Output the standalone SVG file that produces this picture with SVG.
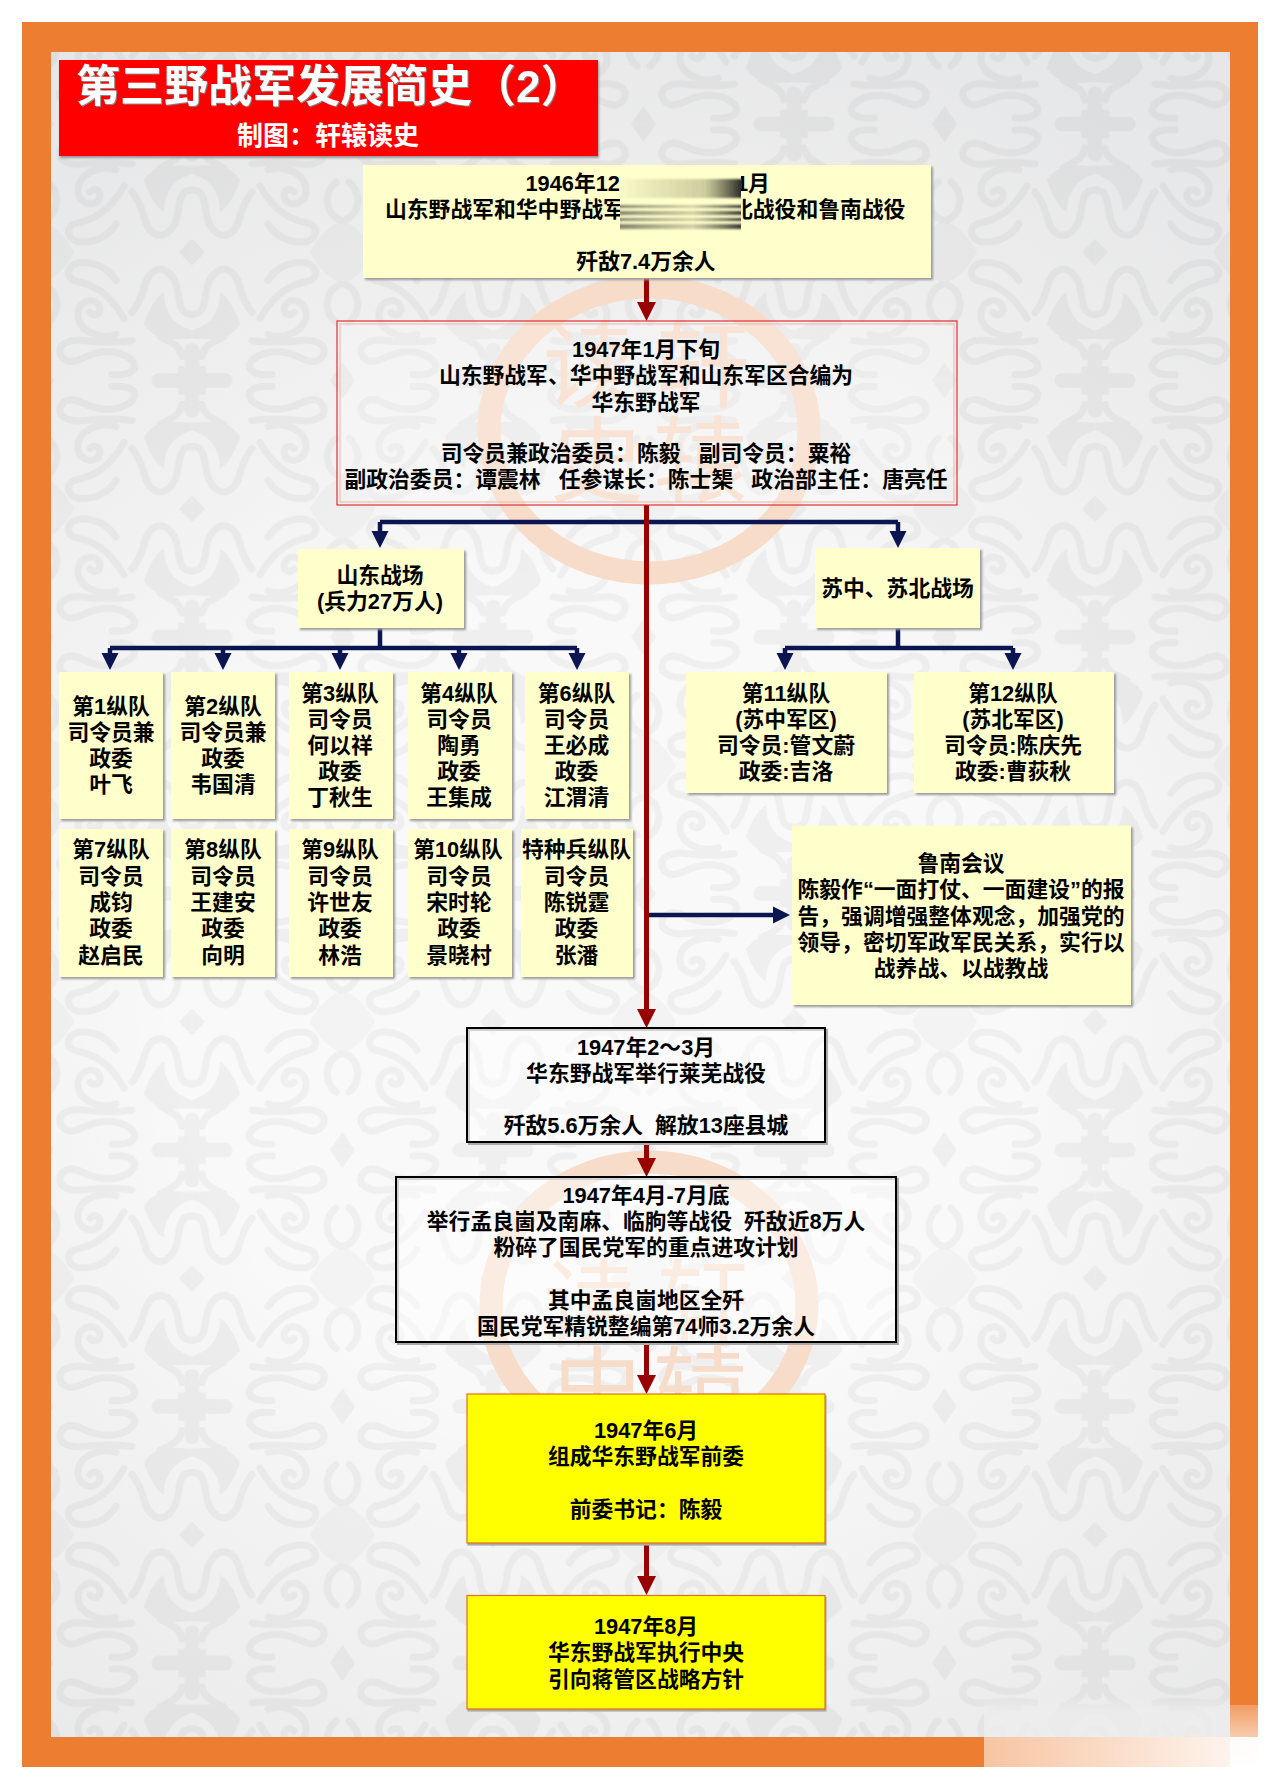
<svg xmlns="http://www.w3.org/2000/svg" width="1280" height="1789" viewBox="0 0 1280 1789">
<style>
text{font-family:"Liberation Sans","Noto Sans CJK SC",sans-serif;font-weight:700;font-size:21.8px;fill:#000;text-anchor:middle;white-space:pre}
.box{fill:#FFFFCC;filter:drop-shadow(2px 2.5px .8px #9a9a9a)}
.yel{fill:#FFFF00;stroke:#E3701A;stroke-width:1.2;filter:drop-shadow(1px 2px .6px #aaa)}
.plain{fill:#fff;fill-opacity:.45;stroke:#000;stroke-width:2}
.pshadow{fill:none;stroke:#aaa;stroke-width:2}
.wm{font-size:94px;font-weight:400;fill:#f7dcca}
.red{stroke:#990000;stroke-width:5;fill:none}
.navy{stroke:#0B1551;stroke-width:4.5;fill:none}
.orn{fill:none;stroke:#efefef;stroke-width:7;stroke-linecap:round}
.ornf{fill:#efefef}
</style>
<defs>
<marker id="ar" markerUnits="userSpaceOnUse" markerWidth="20" markerHeight="20" refX="0" refY="10" orient="auto" viewBox="0 0 20 20"><path d="M0,.5L19,10L0,19.5Z" fill="#990000"/></marker>
<marker id="an" markerUnits="userSpaceOnUse" markerWidth="18" markerHeight="18" refX="0" refY="9" orient="auto" viewBox="0 0 18 18"><path d="M0,.5L17,9L0,17.5Z" fill="#0B1551"/></marker>
<g id="q">
<rect x="-40" y="-7" width="40" height="14" rx="6" class="ornf"/>
<rect x="-7" y="-37" width="14" height="37" rx="6" class="ornf"/>
<rect x="-14" y="-14" width="14" height="14" class="ornf"/>
<polygon points="0,-128.25 -13,-128.25 0,-115" class="ornf"/>
<path class="orn" d="M0,-66C-10,-66 -12,-72 -14,-88C-16,-104 -28,-118 -40,-108C-50,-100 -46,-84 -60,-68"/>
<path class="ornf" d="M-48,-56C-44,-70 -36,-84 -28,-88C-28,-70 -20,-56 0,-50L0,-42C-18,-42 -34,-36 -48,-56Z"/>
<path class="orn" d="M-32,-44C-22,-38 -12,-36 -10,-24"/>
<path class="orn" d="M-80,-6C-58,-4 -52,-14 -62,-22C-76,-32 -94,-30 -110,-22C-122,-16 -130,-20 -132,-28C-134,-36 -122,-42 -108,-40C-92,-38 -74,-38 -60,-40"/>
<path class="orn" d="M-76,-46C-92,-40 -116,-50 -114,-68C-112,-82 -94,-84 -92,-72C-91,-65 -100,-64 -102,-68"/>
<path class="orn" d="M-68,-62C-84,-90 -100,-96 -118,-100C-128,-104 -124,-118 -110,-118C-96,-118 -84,-112 -76,-100"/>
<path class="orn" d="M-144,-58C-130,-70 -134,-90 -148,-96"/>
<path class="ornf" d="M-150.5,-128.25L-118,-128.25C-126,-112 -138,-102 -150.5,-96Z" fill-opacity=".6"/>
<polygon points="-150.5,-18 -138,0 -150.5,0" class="ornf"/>
</g>
<pattern id="bgp" patternUnits="userSpaceOnUse" x="41.5" y="1021.75" width="301" height="256.5">
<rect width="301" height="256.5" fill="#f9f9f9"/>
<use href="#q" transform="translate(150.5,128.25)"/>
<use href="#q" transform="translate(150.5,128.25) scale(-1,1)"/>
<use href="#q" transform="translate(150.5,128.25) scale(1,-1)"/>
<use href="#q" transform="translate(150.5,128.25) scale(-1,-1)"/>
</pattern>
<radialGradient id="vig" gradientUnits="userSpaceOnUse" cx="600" cy="1000" r="1050">
<stop offset=".4" stop-color="#000" stop-opacity="0"/><stop offset="1" stop-color="#2a3040" stop-opacity=".09"/>
</radialGradient>
<linearGradient id="fadeH" x1="0" x2="1" y1="0" y2="0"><stop offset="0" stop-color="#fff" stop-opacity=".55"/><stop offset="1" stop-color="#fff" stop-opacity=".95"/></linearGradient>
<linearGradient id="fadeV" x1="0" x2="0" y1="0" y2="1"><stop offset="0" stop-color="#fff" stop-opacity=".25"/><stop offset="1" stop-color="#fff" stop-opacity=".96"/></linearGradient>
<linearGradient id="fadeG" x1="0" x2="0" y1="0" y2="1"><stop offset="0" stop-color="#ededed" stop-opacity="0"/><stop offset=".4" stop-color="#ededed" stop-opacity=".8"/></linearGradient>
<linearGradient id="st1" x1="0" x2="1" y1="0" y2="0"><stop offset="0" stop-color="#5a5a3a" stop-opacity=".03"/><stop offset=".7" stop-color="#5a5a3a" stop-opacity=".3"/><stop offset="1" stop-color="#222" stop-opacity=".95"/></linearGradient>
<linearGradient id="st2" x1="0" x2="1" y1="0" y2="0"><stop offset="0" stop-color="#333" stop-opacity=".6"/><stop offset=".6" stop-color="#666650" stop-opacity=".3"/><stop offset="1" stop-color="#222" stop-opacity=".9"/></linearGradient>
<filter id="vb" x="-5%" y="-60%" width="110%" height="220%"><feGaussianBlur stdDeviation="0.6 1"/></filter>
</defs>

<g id="frame">
<rect x="22" y="22" width="1236" height="1745" fill="#ED7D31"/>
<rect x="51" y="52" width="1179" height="1685" fill="url(#bgp)"/>
<rect x="51" y="52" width="1179" height="1685" fill="url(#vig)"/>
<rect x="984" y="1695" width="246" height="42" fill="url(#fadeG)"/>
<rect x="984" y="1737" width="274" height="31" fill="url(#fadeH)"/>
<rect x="1230" y="1705" width="28" height="63" fill="url(#fadeV)"/>
</g>

<g id="watermarks">
<ellipse cx="649" cy="430" rx="160" ry="143" fill="none" stroke="#f7dcca" stroke-width="23"/>
<text class="wm" x="590" y="400">读</text><text class="wm" x="703" y="400">轩</text>
<text class="wm" x="597" y="495">史</text><text class="wm" x="700" y="495">辕</text>
<ellipse cx="649" cy="1305" rx="158" ry="143" fill="none" stroke="#f7dcca" stroke-width="23"/>
<text class="wm" x="590" y="1338">读</text><text class="wm" x="703" y="1338">轩</text>
<text class="wm" x="597" y="1425">史</text><text class="wm" x="700" y="1425">辕</text>
</g>

<g id="connectors">
<path class="navy" d="M380,522H898M380,522V531" marker-end="url(#an)"/>
<path class="navy" d="M898,522V531" marker-end="url(#an)"/>
<path class="navy" d="M380,628V648M110,648H577M898,628V648M785,648H1013"/>
<path class="navy" d="M110,648V653" marker-end="url(#an)"/>
<path class="navy" d="M223,648V653" marker-end="url(#an)"/>
<path class="navy" d="M340,648V653" marker-end="url(#an)"/>
<path class="navy" d="M459,648V653" marker-end="url(#an)"/>
<path class="navy" d="M577,648V653" marker-end="url(#an)"/>
<path class="navy" d="M785,648V653" marker-end="url(#an)"/>
<path class="navy" d="M1013,648V653" marker-end="url(#an)"/>
<path class="navy" d="M648,915H773" marker-end="url(#an)"/>
<path class="red" d="M646.5,278V302" marker-end="url(#ar)"/>
<path class="red" d="M646.5,505V1009" marker-end="url(#ar)"/>
<path class="red" d="M646.5,1142V1158" marker-end="url(#ar)"/>
<path class="red" d="M646.5,1342V1375" marker-end="url(#ar)"/>
<path class="red" d="M646.5,1543V1576" marker-end="url(#ar)"/>
</g>

<g id="title">
<rect x="59" y="60" width="539" height="96" fill="#FF0000" style="filter:drop-shadow(1px 2px 1px #999)"/>
<text x="76" y="102" style="font-size:44px;text-anchor:start;fill:#fff;filter:drop-shadow(1px 1px .5px #888)">第三野战军发展简史（<tspan style="font-size:44px">2</tspan>）</text>
<text x="328" y="145" style="font-size:26px;fill:#fff">制图：轩辕读史</text>
</g>

<g id="n-1946">
<rect class="box" x="363" y="165" width="568" height="113"/>
<text x="620" y="191" style="text-anchor:end">1946年12</text>
<text x="736" y="191" style="text-anchor:start">1月</text>
<text x="385" y="216.5" style="text-anchor:start">山东野战军和华中野战军</text>
<text x="731" y="216.5" style="text-anchor:start">北战役和鲁南战役</text>
<text x="646" y="269">歼敌7.4万余人</text>
<rect x="620" y="176" width="121" height="56" fill="#FFFFCC"/>
<rect x="620" y="179" width="121" height="19" fill="url(#st1)" filter="url(#vb)"/>
<rect x="620" y="205" width="121" height="3" fill="url(#st2)" filter="url(#vb)"/>
<rect x="620" y="211" width="121" height="4" fill="url(#st2)" filter="url(#vb)"/>
<rect x="620" y="218" width="121" height="3" fill="url(#st2)" filter="url(#vb)"/>
<rect x="620" y="224" width="121" height="5" fill="url(#st2)" filter="url(#vb)"/>
</g>

<g id="n-1947-1">
<rect x="337" y="321" width="620" height="184" fill="#fff" fill-opacity=".22" stroke="#E03030" stroke-width="1.2"/>
<rect x="340" y="324" width="614" height="178" fill="none" stroke="#F3B0A8" stroke-width="1"/>
<text x="646" y="357">1947年1月下旬</text>
<text x="646" y="383">山东野战军、华中野战军和山东军区合编为</text>
<text x="646" y="410">华东野战军</text>
<text x="646" y="461">司令员兼政治委员：陈毅   副司令员：粟裕</text>
<text x="646" y="487">副政治委员：谭震林   任参谋长：陈士榘   政治部主任：唐亮任</text>
</g>

<g id="n-shandong"><rect class="box" x="298" y="549" width="166" height="79"/>
<text x="380" y="583">山东战场</text><text x="380" y="609">(兵力27万人)</text></g>
<g id="n-suzhong"><rect class="box" x="815" y="548" width="165" height="80"/>
<text x="897.5" y="596">苏中、苏北战场</text></g>

<g id="n-c1"><rect class="box" x="59" y="672" width="104" height="147"/>
<text x="111" y="714">第1纵队</text><text x="111" y="740">司令员兼</text><text x="111" y="766">政委</text><text x="111" y="792">叶飞</text></g>
<g id="n-c2"><rect class="box" x="171" y="672" width="104" height="147"/>
<text x="223" y="714">第2纵队</text><text x="223" y="740">司令员兼</text><text x="223" y="766">政委</text><text x="223" y="792">韦国清</text></g>
<g id="n-c3"><rect class="box" x="289" y="672" width="104" height="147"/>
<text x="340" y="701">第3纵队</text><text x="340" y="727">司令员</text><text x="340" y="753">何以祥</text><text x="340" y="779">政委</text><text x="340" y="805">丁秋生</text></g>
<g id="n-c4"><rect class="box" x="408" y="672" width="104" height="147"/>
<text x="459" y="701">第4纵队</text><text x="459" y="727">司令员</text><text x="459" y="753">陶勇</text><text x="459" y="779">政委</text><text x="459" y="805">王集成</text></g>
<g id="n-c6"><rect class="box" x="525" y="672" width="104" height="147"/>
<text x="576.5" y="701">第6纵队</text><text x="576.5" y="727">司令员</text><text x="576.5" y="753">王必成</text><text x="576.5" y="779">政委</text><text x="576.5" y="805">江渭清</text></g>

<g id="n-c7"><rect class="box" x="59" y="829" width="104" height="148"/>
<text x="111" y="857">第7纵队</text><text x="111" y="883.5">司令员</text><text x="111" y="910">成钧</text><text x="111" y="936">政委</text><text x="111" y="963">赵启民</text></g>
<g id="n-c8"><rect class="box" x="171" y="829" width="104" height="148"/>
<text x="223" y="857">第8纵队</text><text x="223" y="883.5">司令员</text><text x="223" y="910">王建安</text><text x="223" y="936">政委</text><text x="223" y="963">向明</text></g>
<g id="n-c9"><rect class="box" x="289" y="829" width="104" height="148"/>
<text x="340" y="857">第9纵队</text><text x="340" y="883.5">司令员</text><text x="340" y="910">许世友</text><text x="340" y="936">政委</text><text x="340" y="963">林浩</text></g>
<g id="n-c10"><rect class="box" x="408" y="829" width="104" height="148"/>
<text x="458" y="857">第10纵队</text><text x="459" y="883.5">司令员</text><text x="459" y="910">宋时轮</text><text x="459" y="936">政委</text><text x="459" y="963">景晓村</text></g>
<g id="n-cs"><rect class="box" x="521" y="829" width="112" height="148"/>
<text x="576.5" y="857">特种兵纵队</text><text x="576.5" y="883.5">司令员</text><text x="576.5" y="910">陈锐霆</text><text x="576.5" y="936">政委</text><text x="576.5" y="963">张潘</text></g>

<g id="n-c11"><rect class="box" x="686" y="672" width="201" height="121"/>
<text x="786" y="701">第11纵队</text><text x="786" y="727">(苏中军区)</text><text x="786" y="753">司令员:管文蔚</text><text x="786" y="779">政委:吉洛</text></g>
<g id="n-c12"><rect class="box" x="914" y="672" width="200" height="121"/>
<text x="1013" y="701">第12纵队</text><text x="1013" y="727">(苏北军区)</text><text x="1013" y="753">司令员:陈庆先</text><text x="1013" y="779">政委:曹荻秋</text></g>

<g id="n-lunan"><rect class="box" x="792" y="825.5" width="339" height="179.5"/>
<text x="961" y="871">鲁南会议</text>
<text x="961" y="897">陈毅作“一面打仗、一面建设”的报</text>
<text x="961" y="924">告，强调增强整体观念，加强党的</text>
<text x="961" y="950">领导，密切军政军民关系，实行以</text>
<text x="961" y="976">战养战、以战教战</text></g>

<g id="n-1947-2"><rect class="pshadow" x="469" y="1030" width="358" height="114"/>
<rect class="plain" x="467" y="1028" width="358" height="114"/>
<text x="646" y="1055">1947年2～3月</text>
<text x="646" y="1081">华东野战军举行莱芜战役</text>
<text x="646" y="1133">歼敌5.6万余人  解放13座县城</text></g>

<g id="n-1947-4"><rect class="pshadow" x="398" y="1179" width="500" height="165"/>
<rect class="plain" x="396" y="1177" width="500" height="165"/>
<text x="646" y="1203">1947年4月-7月底</text>
<text x="646" y="1229">举行孟良崮及南麻、临朐等战役  歼敌近8万人</text>
<text x="646" y="1255">粉碎了国民党军的重点进攻计划</text>
<text x="646" y="1308">其中孟良崮地区全歼</text>
<text x="646" y="1334">国民党军精锐整编第74师3.2万余人</text></g>

<g id="n-1947-6"><rect class="yel" x="467" y="1394" width="358" height="149"/>
<text x="646" y="1438">1947年6月</text>
<text x="646" y="1464">组成华东野战军前委</text>
<text x="646" y="1517">前委书记：陈毅</text></g>

<g id="n-1947-8"><rect class="yel" x="467" y="1595.5" width="358" height="113.5"/>
<text x="646" y="1634">1947年8月</text>
<text x="646" y="1660">华东野战军执行中央</text>
<text x="646" y="1687">引向蒋管区战略方针</text></g>
</svg>
